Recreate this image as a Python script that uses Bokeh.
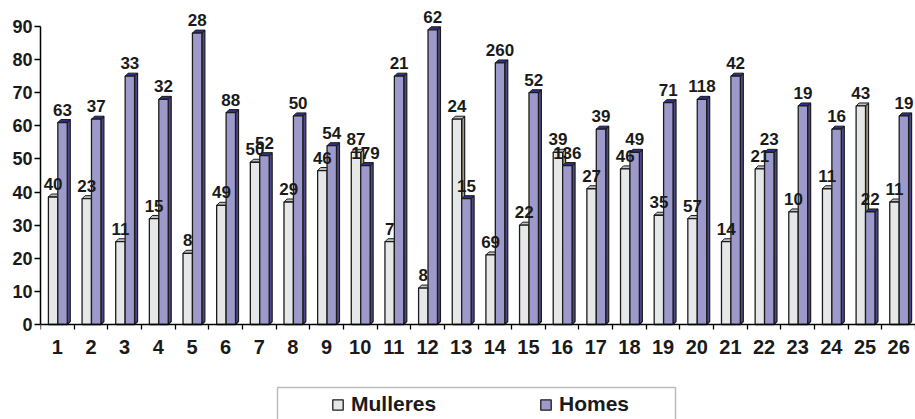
from bokeh.plotting import figure
from bokeh.models import (Range1d, FixedTicker, ColumnDataSource, Legend, LegendItem,
                          BoxAnnotation, CustomJSTickFormatter)
from bokeh.core.properties import value
from bokeh.embed import file_html
from bokeh.resources import INLINE

# Categories 1..26
categories = [str(i) for i in range(1, 27)]

# Bar heights (percent) per series
mulleres_pct = [38.5, 38, 25, 32, 21.5, 36, 49, 37, 46.5, 52, 25, 11, 62,
                21, 30, 52, 41, 47, 33, 32, 25, 47, 34, 41, 66, 37]
homes_pct = [61, 62, 75, 68, 88, 64, 51, 63, 54, 48, 75, 89, 38,
             79, 70, 48, 59, 52, 67, 68, 75, 52, 66, 59, 34, 63]

# Counts printed above each bar
mulleres_n = [40, 23, 11, 15, 8, 49, 50, 29, 46, 87, 7, 8, 24,
              69, 22, 39, 27, 46, 35, 57, 14, 21, 10, 11, 43, 11]
homes_n = [63, 37, 33, 32, 28, 88, 52, 50, 54, 179, 21, 62, 15,
           260, 52, 136, 39, 49, 71, 118, 42, 23, 19, 16, 22, 19]

y_ticks = [0, 10, 20, 30, 40, 50, 60, 70, 80, 90]

W, H = 915, 419
LEFT = 40
AXIS_Y = 324                       # canvas row of the value-axis zero
frame_w = W - LEFT
n = len(categories)
px_x = frame_w / n                 # pixels per category
px_y = (AXIS_Y - 26) / 90.0        # pixels per percent unit
y_top = AXIS_Y / px_y
y_bottom = -(H - AXIS_Y) / px_y

FONT = "Liberation Sans"
OUTLINE = "#1c1c1c"

p = figure(width=W, height=H, output_backend="svg", toolbar_location=None,
           x_range=Range1d(0, n), y_range=Range1d(y_bottom, y_top),
           min_border_left=LEFT, min_border_right=0, min_border_top=0,
           min_border_bottom=0)
p.outline_line_color = None
p.xgrid.visible = False
p.ygrid.visible = False
p.background_fill_color = "white"
p.border_fill_color = "white"

# 3D depth offsets in data units
dx = 3.0 / px_x
dy = 3.0 / px_y

def bar_geometry(vals, off0, off1):
    x0 = [i + off0 for i in range(n)]
    x1 = [i + off1 for i in range(n)]
    tops_x = [[a, b, b + dx, a + dx] for a, b in zip(x0, x1)]
    tops_y = [[v, v, v + dy, v + dy] for v in vals]
    side_x = [[b, b, b + dx, b + dx] for b in x1]
    side_y = [[0, v, v + dy, dy] for v in vals]
    return x0, x1, tops_x, tops_y, side_x, side_y

series = [
    ("Mulleres", mulleres_pct, mulleres_n, 0.235, 0.515, "#E6E7E9", "#BEBEBE", "#A69D7B"),
    ("Homes", homes_pct, homes_n, 0.515, 0.795, "#9D99CB", "#2E2E8C", "#4D4986"),
]

legend_items = []
for name, vals, counts, o0, o1, front_c, top_c, side_c in series:
    x0, x1, tx, ty, sx, sy = bar_geometry(vals, o0, o1)
    p.patches(sx, sy, fill_color=side_c, line_color=OUTLINE, line_width=1.2)
    p.patches(tx, ty, fill_color=top_c, line_color=OUTLINE, line_width=1.0)
    src = ColumnDataSource(dict(left=x0, right=x1, top=vals, bottom=[0] * n))
    r = p.quad(left="left", right="right", top="top", bottom="bottom", source=src,
               fill_color=front_c, line_color=OUTLINE, line_width=1.3)
    legend_items.append(LegendItem(label=name, renderers=[r]))

# Count labels above the bars
for name, vals, counts, o0, o1, *_ in series:
    lsrc = ColumnDataSource(dict(
        x=[i + (o0 + o1) / 2 for i in range(n)],
        y=vals,
        t=[str(c) for c in counts]))
    p.text(x="x", y="y", text="t", source=lsrc, text_font=value(FONT),
           text_font_style="bold", text_font_size="17px", text_color="#1a1a1a",
           text_align="center", text_baseline="bottom", y_offset=-7)

# Axes
p.yaxis.ticker = FixedTicker(ticks=y_ticks)
p.yaxis.bounds = (0, 90)
p.yaxis.axis_line_color = "black"
p.yaxis.axis_line_width = 1.5
p.yaxis.major_tick_line_color = "black"
p.yaxis.major_tick_line_width = 1.3
p.yaxis.major_tick_out = 6
p.yaxis.major_tick_in = 0
p.yaxis.minor_tick_line_color = None
p.yaxis.major_label_text_font = FONT
p.yaxis.major_label_text_font_style = "bold"
p.yaxis.major_label_text_font_size = "18px"
p.yaxis.major_label_text_color = "#1a1a1a"
p.yaxis.major_label_standoff = 2

p.xaxis.fixed_location = 0
p.xaxis.ticker = FixedTicker(ticks=[i + 0.5 for i in range(n)],
                             minor_ticks=list(range(n + 1)))
p.xaxis.formatter = CustomJSTickFormatter(
    args=dict(labels=categories), code="return labels[Math.round(tick - 0.5)];")
p.xaxis.axis_line_color = "black"
p.xaxis.axis_line_width = 1.5
p.xaxis.major_tick_line_color = None
p.xaxis.major_tick_out = 0
p.xaxis.major_tick_in = 0
p.xaxis.minor_tick_line_color = "black"
p.xaxis.minor_tick_line_width = 1.3
p.xaxis.minor_tick_out = 5
p.xaxis.minor_tick_in = 0
p.xaxis.major_label_text_font = FONT
p.xaxis.major_label_text_font_style = "bold"
p.xaxis.major_label_text_font_size = "20px"
p.xaxis.major_label_text_color = "#1a1a1a"
p.xaxis.major_label_standoff = 10

# Legend frame
p.add_layout(BoxAnnotation(left=277, right=675, top=387, bottom=440,
                           left_units="canvas", right_units="canvas",
                           top_units="canvas", bottom_units="canvas",
                           fill_alpha=0, line_color="#222222", line_width=1.5))

legend = Legend(items=legend_items, orientation="horizontal",
                location=(331 - LEFT, H - 416),
                padding=0, margin=0, spacing=0,
                glyph_width=13, glyph_height=13, label_standoff=7,
                label_width=188, label_height=22,
                label_text_font=FONT, label_text_font_style="bold",
                label_text_font_size="21px", label_text_color="#1a1a1a",
                border_line_color=None, background_fill_alpha=0)
p.add_layout(legend, "center")

open("out.html", "w").write(file_html(p, INLINE))
